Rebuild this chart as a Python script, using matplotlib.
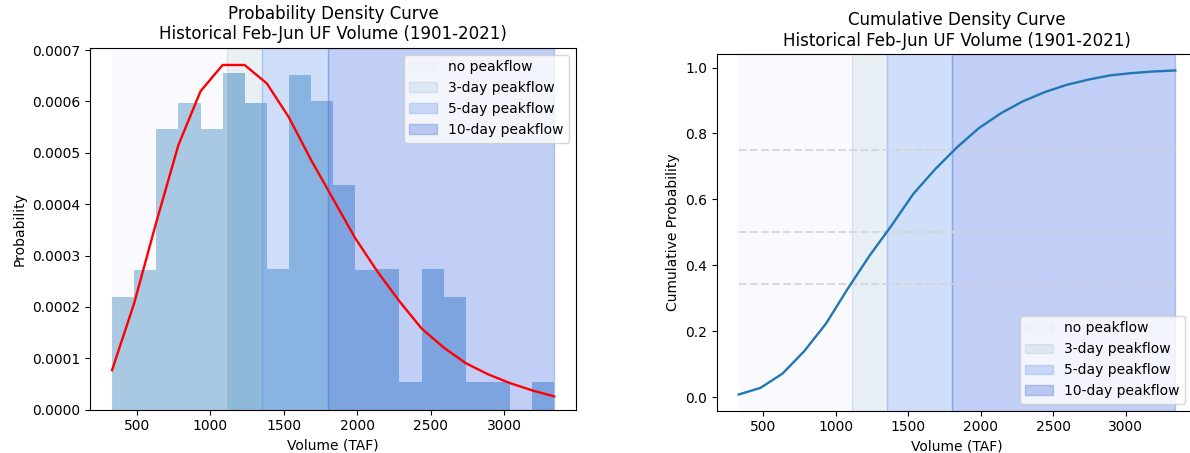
import matplotlib
matplotlib.use("Agg")
import matplotlib.pyplot as plt

# Feb-Jun unimpaired flow volume (TAF)
bin_edges = [333, 483, 634, 784, 935, 1085, 1235, 1386, 1536, 1687, 1837,
             1987, 2138, 2288, 2439, 2589, 2739, 2890, 3040, 3191, 3341]
year_counts = [4, 5, 10, 11, 10, 12, 11, 5, 12, 11, 8, 5, 5, 1, 5, 4, 1, 1, 0, 1]

# fitted curves sampled at the bin edges
pdf_values = [0.0000770, 0.000207, 0.000365, 0.000515, 0.000620, 0.000671,
              0.000671, 0.000635, 0.000569, 0.000486, 0.000410, 0.000334,
              0.000269, 0.000211, 0.000158, 0.000121, 0.0000906, 0.0000690,
              0.0000518, 0.0000376, 0.0000259]
cdf_values = [0.009, 0.029, 0.072, 0.140, 0.224, 0.330, 0.430, 0.521, 0.617,
              0.692, 0.758, 0.816, 0.861, 0.897, 0.925, 0.947, 0.963, 0.976,
              0.983, 0.988, 0.991]

# peakflow zones (volume thresholds) and their CDF levels
zone_labels = ["no peakflow", "3-day peakflow", "5-day peakflow", "10-day peakflow"]
zone_bounds = [333, 1112, 1355, 1800, 3341]
zone_colors = ["lavender", "steelblue", "cornflowerblue", "royalblue"]
zone_alpha = [0.2, 0.12, 0.3, 0.32]
prob_levels = [0.343, 0.5, 0.75]

title2 = "Historical Feb-Jun UF Volume (1901-2021)"


def add_zones(ax):
    for i, lab in enumerate(zone_labels):
        ax.axvspan(zone_bounds[i], zone_bounds[i + 1], color=zone_colors[i],
                   alpha=zone_alpha[i], label=lab)


fig = plt.figure(figsize=(11.9, 4.53), dpi=100)

# --- probability density
ax1 = fig.add_axes([0.0756, 0.0956, 0.4087, 0.799])
ax1.hist(bin_edges[:-1], bins=bin_edges, weights=year_counts, density=True,
         color="tab:blue", alpha=0.45)
add_zones(ax1)
ax1.plot(bin_edges, pdf_values, color="red", lw=1.7)
ax1.set_title("Probability Density Curve\n" + title2)
ax1.set_xlabel("Volume (TAF)")
ax1.set_ylabel("Probability")
ax1.set_xticks([500, 1000, 1500, 2000, 2500, 3000])
ax1.legend(loc="upper right")

# --- cumulative density
ax2 = fig.add_axes([0.6024, 0.0934, 0.4036, 0.7868])
add_zones(ax2)
ax2.hlines(prob_levels, bin_edges[0], bin_edges[-1], colors="lightgray",
           linestyles="--", lw=1.5, alpha=0.8)
ax2.plot(bin_edges, cdf_values, color="tab:blue", lw=1.7)
ax2.set_title("Cumulative Density Curve\n" + title2)
ax2.set_xlabel("Volume (TAF)")
ax2.set_ylabel("Cumulative Probability")
ax2.set_xticks([500, 1000, 1500, 2000, 2500, 3000])
ax2.legend(loc="lower right", bbox_to_anchor=(0.99, 0.0))

fig.savefig("out.png", dpi=100)
